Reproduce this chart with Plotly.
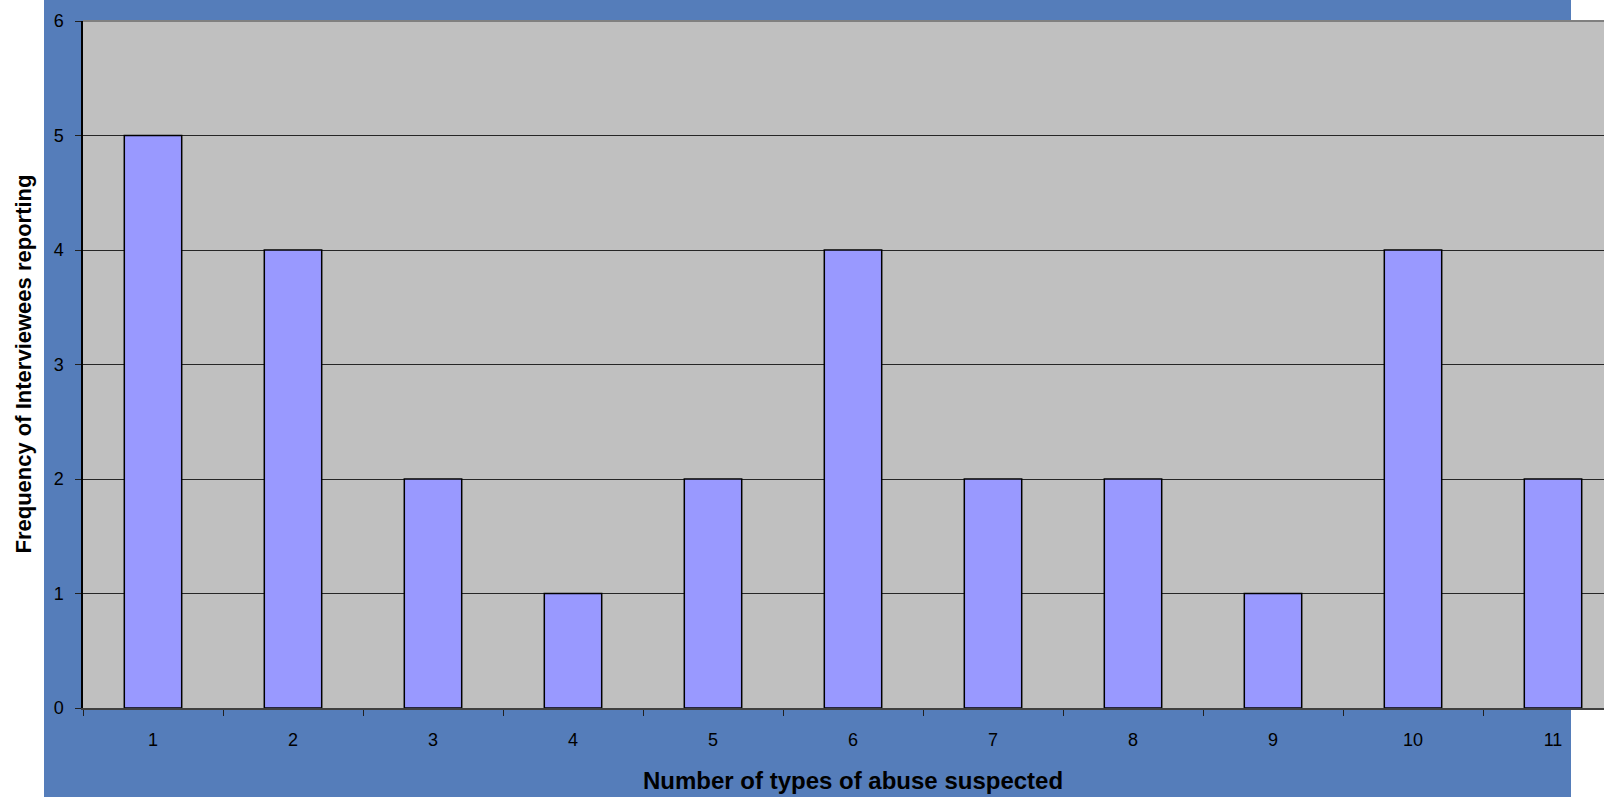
import plotly.graph_objects as go

categories = ["1", "2", "3", "4", "5", "6", "7", "8", "9", "10", "11"]
frequencies = [5, 4, 2, 1, 2, 4, 2, 2, 1, 4, 2]
y_ticks = [0, 1, 2, 3, 4, 5, 6]

x_title = "Number of types of abuse suspected"
y_title = "Frequency of Interviewees reporting"

W, H = 1604, 797
L, R, T, B = 83, 0, 21, 89
pw, ph = W - L - R, H - T - B
cat_w = 140.0

BLUE = "#557DBA"
GRAY = "#C0C0C0"
FONT = "Liberation Sans, Arial, sans-serif"

fig = go.Figure()
fig.add_trace(go.Bar(
    x=categories, y=frequencies, width=0.41,
    marker=dict(color="#9999FF", line=dict(color="#000000", width=1.5)),
    hoverinfo="x+y",
))

def px_x(p):
    return (p - L) / pw

def px_y(p):
    return (H - B - p) / ph

fig.update_layout(
    width=W, height=H,
    margin=dict(l=L, r=R, t=T, b=B, pad=0),
    paper_bgcolor="white",
    plot_bgcolor=GRAY,
    showlegend=False,
    font=dict(family=FONT, color="#000000", size=18),
    shapes=[
        dict(type="rect", xref="paper", yref="paper",
             x0=px_x(44), x1=px_x(1571), y0=px_y(H), y1=px_y(0),
             fillcolor=BLUE, line=dict(width=0), layer="below"),
        dict(type="rect", xref="paper", yref="paper",
             x0=0, x1=1, y0=0, y1=1,
             fillcolor=GRAY, line=dict(width=0), layer="below"),
        dict(type="line", xref="paper", yref="paper",
             x0=0, x1=1, y0=1, y1=1,
             line=dict(color="#808080", width=2), layer="above"),
    ],
    annotations=[
        dict(text=f"<b>{x_title}</b>", xref="paper", yref="paper",
             x=px_x(852.7), y=px_y(780), xanchor="center", yanchor="middle",
             showarrow=False, font=dict(size=24, family=FONT, color="#000000")),
        dict(text=f"<b>{y_title}</b>", xref="paper", yref="paper",
             x=px_x(23), y=0.5, xanchor="center", yanchor="middle",
             textangle=-90, showarrow=False,
             font=dict(size=22, family=FONT, color="#000000")),
    ],
)

fig.update_xaxes(
    type="category",
    range=[-0.5, -0.5 + pw / cat_w],
    showgrid=False,
    showline=True, linecolor="#404040", linewidth=2,
    ticks="outside", tickson="boundaries", ticklen=6, tickwidth=1, tickcolor="#202020",
    tickfont=dict(size=18, family=FONT, color="#000000"),
    ticklabelstandoff=14,
    fixedrange=True,
)
fig.update_yaxes(
    range=[0, 6],
    tickvals=y_ticks,
    showgrid=True, gridcolor="#262626", gridwidth=1,
    zeroline=False,
    showline=True, linecolor="#000000", linewidth=1.5,
    ticks="outside", ticklen=6, tickwidth=1, tickcolor="#202020",
    tickfont=dict(size=18, family=FONT, color="#000000"),
    ticklabelstandoff=8,
    fixedrange=True,
)

fig.write_html(
    "out.html",
    config={"displayModeBar": False},
    post_script="document.body.style.margin='0px';document.body.style.overflow='hidden';",
)
